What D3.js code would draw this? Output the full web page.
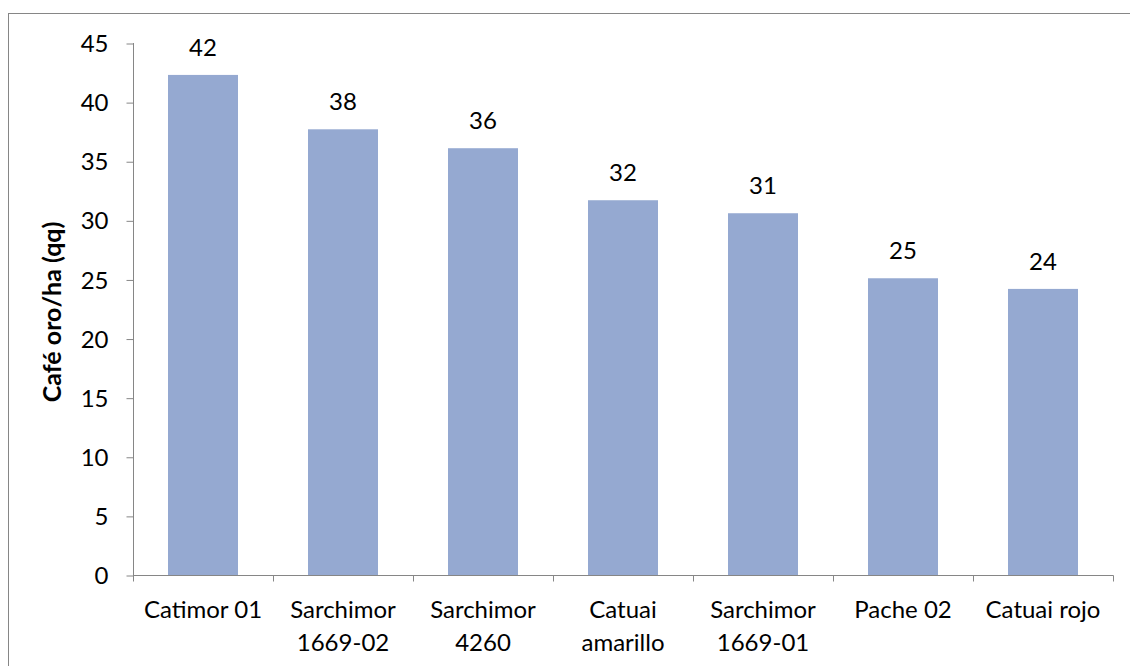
<!DOCTYPE html>
<html><head><meta charset="utf-8">
<script src="https://cdn.jsdelivr.net/npm/d3@7"></script>
<style>body{margin:0;background:#fff}svg{display:block}text{font-family:Lato,"Open Sans",sans-serif;fill:#000}</style>
</head><body>
<svg id="c" width="1130" height="666"></svg>
<script>
const categories = [["Catimor 01"],["Sarchimor","1669-02"],["Sarchimor","4260"],["Catuai","amarillo"],["Sarchimor","1669-01"],["Pache 02"],["Catuai rojo"]];
const values = [42.3, 37.7, 36.1, 31.7, 30.6, 25.1, 24.2];
const yTicks = [0,5,10,15,20,25,30,35,40,45];
const yTitle = "Café oro/ha (qq)";

const svg = d3.select("#c");
const L = 133, R = 1113, T = 43, B = 575;
const FS = "24px";
const keys = categories.map((c,i)=>i);
const x = d3.scaleBand().domain(keys).range([L,R]).paddingInner(0.5).paddingOuter(0.25);
const y = d3.scaleLinear().domain([0,45]).range([B,T]);

svg.append("rect").attr("x",8.5).attr("y",13.5).attr("width",1130).attr("height",700)
  .attr("fill","none").attr("stroke","#868686").attr("stroke-width",1);

svg.append("g").selectAll("rect").data(values).join("rect")
  .attr("x",(d,i)=>x(i)).attr("width",x.bandwidth())
  .attr("y",d=>y(d)).attr("height",d=>B-y(d)).attr("fill","#95A9D1");

svg.append("g").selectAll("text").data(values).join("text")
  .attr("x",(d,i)=>x(i)+x.bandwidth()/2).attr("y",d=>y(d)-19)
  .attr("text-anchor","middle").style("font-size",FS).text(d=>Math.round(d));

// y axis
const ya = svg.append("g").attr("transform",`translate(${L+0.5},0)`)
  .call(d3.axisLeft(y).tickValues(yTicks).tickSize(7).tickSizeOuter(0).tickPadding(18));
ya.select(".domain").attr("stroke","#868686").attr("d",`M0,${T}V${B+6}`);
ya.selectAll(".tick line").attr("stroke","#868686").attr("y1",0.5).attr("y2",0.5);
ya.selectAll(".tick text").style("font-size",FS).style("font-family","Lato").attr("fill","#000").attr("dy","0.36em");

// x axis
const bounds = d3.range(categories.length+1).map(i=>L + i*x.step());
const xa = svg.append("g").attr("transform",`translate(0,${B+0.5})`);
xa.append("line").attr("x1",L).attr("x2",R+0.5).attr("stroke","#868686");
xa.selectAll("line.t").data(bounds).join("line").attr("class","t")
  .attr("x1",d=>Math.round(d)+0.5).attr("x2",d=>Math.round(d)+0.5).attr("y1",0).attr("y2",6).attr("stroke","#868686");
const lab = svg.append("g").selectAll("text").data(categories).join("text")
  .attr("x",(d,i)=>x(i)+x.bandwidth()/2).attr("y",618).attr("text-anchor","middle").style("font-size",FS);
lab.selectAll("tspan").data(d=>d).join("tspan")
  .attr("x",function(){return this.parentNode.getAttribute("x");})
  .attr("dy",(d,i)=>i?33:0).text(d=>d);

svg.append("text").attr("transform",`translate(61,${(T+B)/2+3}) rotate(-90)`)
  .attr("text-anchor","middle").style("font-size","25px").style("font-weight","bold").text(yTitle);
</script>
</body></html>
